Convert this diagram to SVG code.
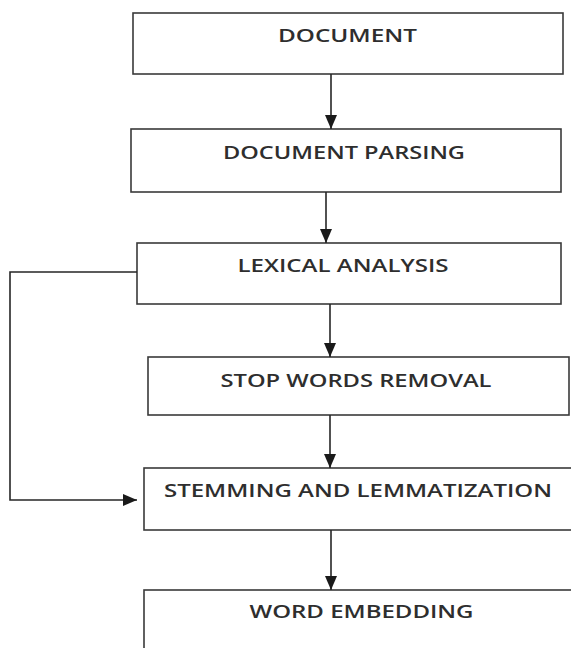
<svg xmlns="http://www.w3.org/2000/svg" width="571" height="648" viewBox="0 0 571 648">
  <style>
    .box { fill: #ffffff; stroke: #3a3a3a; stroke-width: 1.6; }
    .lbl { font-family: "Open Sans", "Liberation Sans", sans-serif; font-size: 18px; font-weight: 600; fill: #2e2e2e; text-anchor: middle; }
    .wire { fill: none; stroke: #262626; stroke-width: 1.6; }
  </style>
  <defs>
    <marker id="head" markerUnits="userSpaceOnUse" markerWidth="14" markerHeight="12" refX="14" refY="6" orient="auto">
      <path d="M0,0 L14,6 L0,12 z" fill="#1a1a1a"/>
    </marker>
  </defs>
  <rect width="571" height="648" fill="#ffffff"/>

  <g id="document">
    <rect class="box" x="133" y="13" width="430" height="61"/>
    <text class="lbl" x="347.5" y="42" textLength="139" lengthAdjust="spacingAndGlyphs">DOCUMENT</text>
  </g>
  <g id="document-parsing">
    <rect class="box" x="131" y="129" width="430" height="63"/>
    <text class="lbl" x="344" y="159" textLength="242" lengthAdjust="spacingAndGlyphs">DOCUMENT PARSING</text>
  </g>
  <g id="lexical-analysis">
    <rect class="box" x="137" y="243" width="424" height="61"/>
    <text class="lbl" x="343" y="272" textLength="211" lengthAdjust="spacingAndGlyphs">LEXICAL ANALYSIS</text>
  </g>
  <g id="stop-words-removal">
    <rect class="box" x="148" y="357" width="421" height="58"/>
    <text class="lbl" x="356" y="387" textLength="271" lengthAdjust="spacingAndGlyphs">STOP WORDS REMOVAL</text>
  </g>
  <g id="stemming-lemmatization">
    <rect class="box" x="144" y="468" width="440" height="62"/>
    <text class="lbl" x="358" y="497" textLength="388" lengthAdjust="spacingAndGlyphs">STEMMING AND LEMMATIZATION</text>
  </g>
  <g id="word-embedding">
    <rect class="box" x="144" y="590" width="440" height="80"/>
    <text class="lbl" x="361.5" y="618" textLength="224" lengthAdjust="spacingAndGlyphs">WORD EMBEDDING</text>
  </g>

  <g id="connectors">
    <line class="wire" x1="331" y1="74" x2="331" y2="129" marker-end="url(#head)"/>
    <line class="wire" x1="326" y1="192" x2="326" y2="243" marker-end="url(#head)"/>
    <line class="wire" x1="330" y1="304" x2="330" y2="357" marker-end="url(#head)"/>
    <line class="wire" x1="330" y1="415" x2="330" y2="468" marker-end="url(#head)"/>
    <line class="wire" x1="331" y1="530" x2="331" y2="590" marker-end="url(#head)"/>
    <polyline class="wire" points="137,272 10,272 10,500 137,500" marker-end="url(#head)"/>
  </g>
</svg>
